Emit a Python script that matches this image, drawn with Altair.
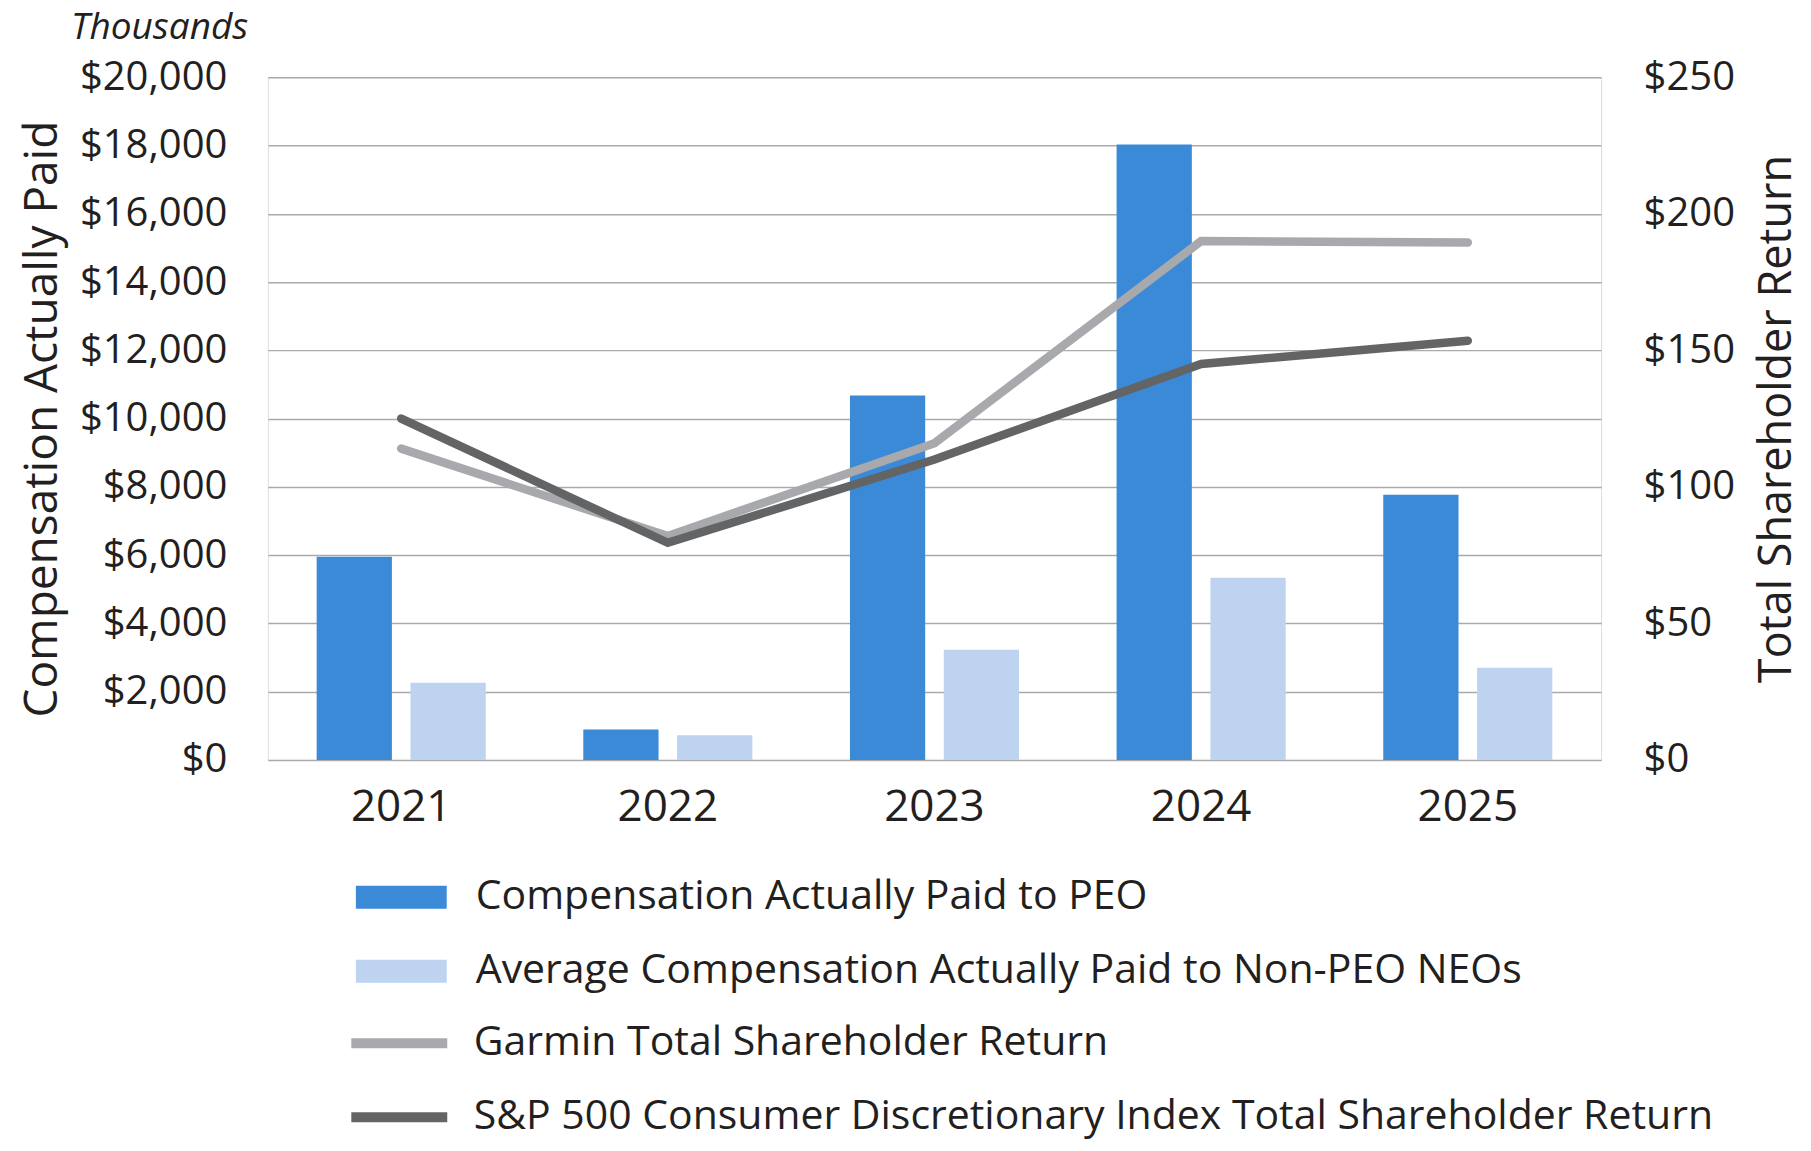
import altair as alt
import pandas as pd

years = ["2021", "2022", "2023", "2024", "2025"]
peo = [5950, 890, 10680, 18030, 7770]
neo = [2260, 720, 3230, 5340, 2700]
garmin = [114, 82, 116, 190, 189.5]
sp500 = [125, 79.5, 110, 145, 153.5]

bar_series = ["Compensation Actually Paid to PEO",
              "Average Compensation Actually Paid to Non-PEO NEOs"]
line_series = ["Garmin Total Shareholder Return",
               "S&P 500 Consumer Discretionary Index Total Shareholder Return"]
bar_colors = ["#3a8ad8", "#bdd3f0"]
line_colors = ["#a8a9ad", "#636466"]

left_ticks = list(range(0, 20001, 2000))
right_ticks = list(range(0, 251, 50))

bars_df = pd.DataFrame({
    "year": years * 2,
    "series": [bar_series[0]] * 5 + [bar_series[1]] * 5,
    "value": peo + neo,
})
lines_df = pd.DataFrame({
    "year": years * 2,
    "series": [line_series[0]] * 5 + [line_series[1]] * 5,
    "tsr": garmin + sp500,
})

FONT = "Open Sans"
TEXT = "#231f20"
GRID = "#aaaaaa"
PLOT_W = 1334
PLOT_H = 683

x_enc = alt.X("year:N", sort=years,
              scale=alt.Scale(paddingInner=0, paddingOuter=0),
              axis=alt.Axis(title=None, labelAngle=0, labelFontSize=44,
                            labelFont=FONT, labelColor=TEXT, labelPadding=26,
                            domain=False, ticks=False, grid=False))

rect_path = "M-3.03,-0.77L3.03,-0.77L3.03,0.77L-3.03,0.77Z"
line_path = "M-3.2,0L3.2,0"

bars = alt.Chart(bars_df).mark_bar().encode(
    x=x_enc,
    xOffset=alt.XOffset("series:N", sort=bar_series,
                        scale=alt.Scale(domain=bar_series, paddingInner=0.198,
                                        paddingOuter=0.52)),
    y=alt.Y("value:Q", scale=alt.Scale(domain=[0, 20000], nice=False),
            axis=alt.Axis(title="Compensation Actually Paid", values=left_ticks,
                          format="$,.0f", labelFontSize=40, labelFont=FONT,
                          labelColor=TEXT, labelPadding=41, titleFont=FONT,
                          titleFontSize=46, titleFontWeight="normal",
                          titleColor=TEXT, titlePadding=13, domain=False,
                          ticks=False, grid=True, gridColor=GRID, gridWidth=1.5)),
    color=alt.Color("series:N", sort=bar_series,
                    scale=alt.Scale(domain=bar_series, range=bar_colors),
                    legend=alt.Legend(title=None, orient="none", legendX=113,
                                      legendY=800, direction="vertical",
                                      symbolType=rect_path, symbolSize=900,
                                      symbolStrokeWidth=0, labelFont=FONT,
                                      labelFontSize=41, labelColor=TEXT,
                                      labelLimit=0, labelOffset=54,
                                      rowPadding=32, padding=0)),
)

lines = alt.Chart(lines_df).mark_line(strokeWidth=8.5, strokeCap="round").encode(
    x=x_enc,
    y=alt.Y("tsr:Q", scale=alt.Scale(domain=[0, 250], nice=False),
            axis=alt.Axis(title="Total Shareholder Return", orient="right",
                          values=right_ticks, format="$,.0f", labelFontSize=40,
                          labelFont=FONT, labelColor=TEXT, labelPadding=42,
                          labelAlign="left", titleFont=FONT, titleFontSize=45,
                          titleFontWeight="normal", titleColor=TEXT,
                          titleAngle=270, titleX=175, titleY=PLOT_H / 2,
                          titleAlign="center", titleBaseline="middle",
                          domain=False, ticks=False, grid=False)),
    stroke=alt.Stroke("series:N", sort=line_series,
                      scale=alt.Scale(domain=line_series, range=line_colors),
                      legend=alt.Legend(title=None, orient="none", legendX=111,
                                        legendY=946, direction="vertical",
                                        symbolType=line_path, symbolSize=900,
                                        symbolStrokeWidth=10, labelFont=FONT,
                                        labelFontSize=41, labelColor=TEXT,
                                        labelLimit=0, labelOffset=54,
                                        rowPadding=32, padding=0)),
)

chart = alt.layer(bars, lines).resolve_scale(
    y="independent", color="independent", stroke="independent"
).properties(
    width=PLOT_W,
    height=PLOT_H,
    padding={"left": 11, "right": 4, "top": 1, "bottom": 3},
    title=alt.TitleParams("Thousands", anchor="start", frame="group", dx=-197,
                          font=FONT, fontSize=37, fontStyle="italic",
                          fontWeight="normal", color=TEXT, offset=10),
).configure_view(stroke=None).configure(background="white")

chart.save("out.html", embed_options={"renderer": "svg", "actions": False})
